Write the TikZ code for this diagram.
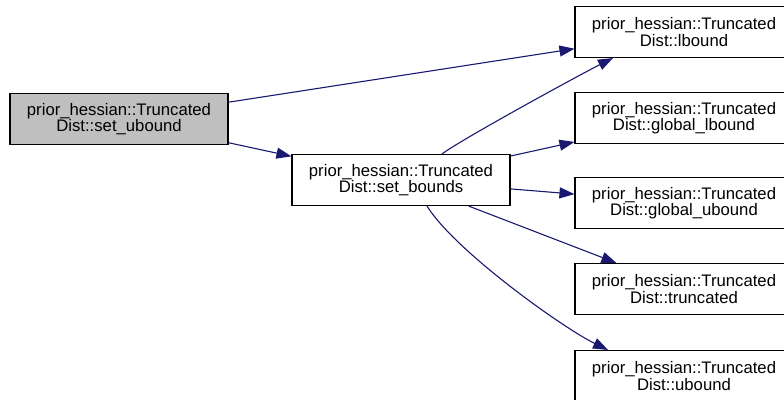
\documentclass[tikz,border=0pt]{standalone}
\usepackage{fontspec}
\setmainfont{Liberation Sans}
\usepackage{xcolor}
\usetikzlibrary{positioning, arrows.meta, calc}
\definecolor{edgeblue}{HTML}{191970}
\definecolor{curgray}{HTML}{BFBFBF}

\begin{document}
\begin{tikzpicture}[
  x=1pt, y=-1pt,
  fn/.style={draw, line width=1.1pt, fill=white, font=\fontsize{16.7}{16.5}\selectfont, align=center, minimum width=218pt, minimum height=51pt, inner sep=0pt},
  cur/.style={fn, fill=curgray},
  arr/.style={draw=edgeblue, line width=1.1pt, -{Triangle[length=15pt, width=11pt, fill=edgeblue]}},
]

\useasboundingbox (0,0) rectangle (784,399);
\clip (0,0) rectangle (784,399);

% --- Caller ---
\node[cur] (setu) at (119,119) {prior\_hessian::Truncated\\Dist::set\_ubound};

% --- Middle ---
\node[fn] (setb) at (401,180) {prior\_hessian::Truncated\\Dist::set\_bounds};

% --- Callees ---
\node[fn] (lbound) at (684,32) {prior\_hessian::Truncated\\Dist::lbound};
\node[fn] (glb) at (684,118) {prior\_hessian::Truncated\\Dist::global\_lbound};
\node[fn] (gub) at (684,203) {prior\_hessian::Truncated\\Dist::global\_ubound};
\node[fn] (trunc) at (684,289) {prior\_hessian::Truncated\\Dist::truncated};
\node[fn] (ubound) at (684,376) {prior\_hessian::Truncated\\Dist::ubound};

% --- Calls ---
\draw[arr] (setu) -- (lbound);
\draw[arr] (setu) -- (setb);
\draw[arr] ([xshift=41]setb.north) .. controls +(20,-15) and +(-30,15) .. ([xshift=-71]lbound.south);
\foreach \sub in {glb, gub, trunc} { \draw[arr] (setb) -- (\sub); }
\draw[arr] ([xshift=26]setb.south) .. controls +(28,45) and +(-45,-22) .. ([xshift=-76]ubound.north);

\end{tikzpicture}
\end{document}
